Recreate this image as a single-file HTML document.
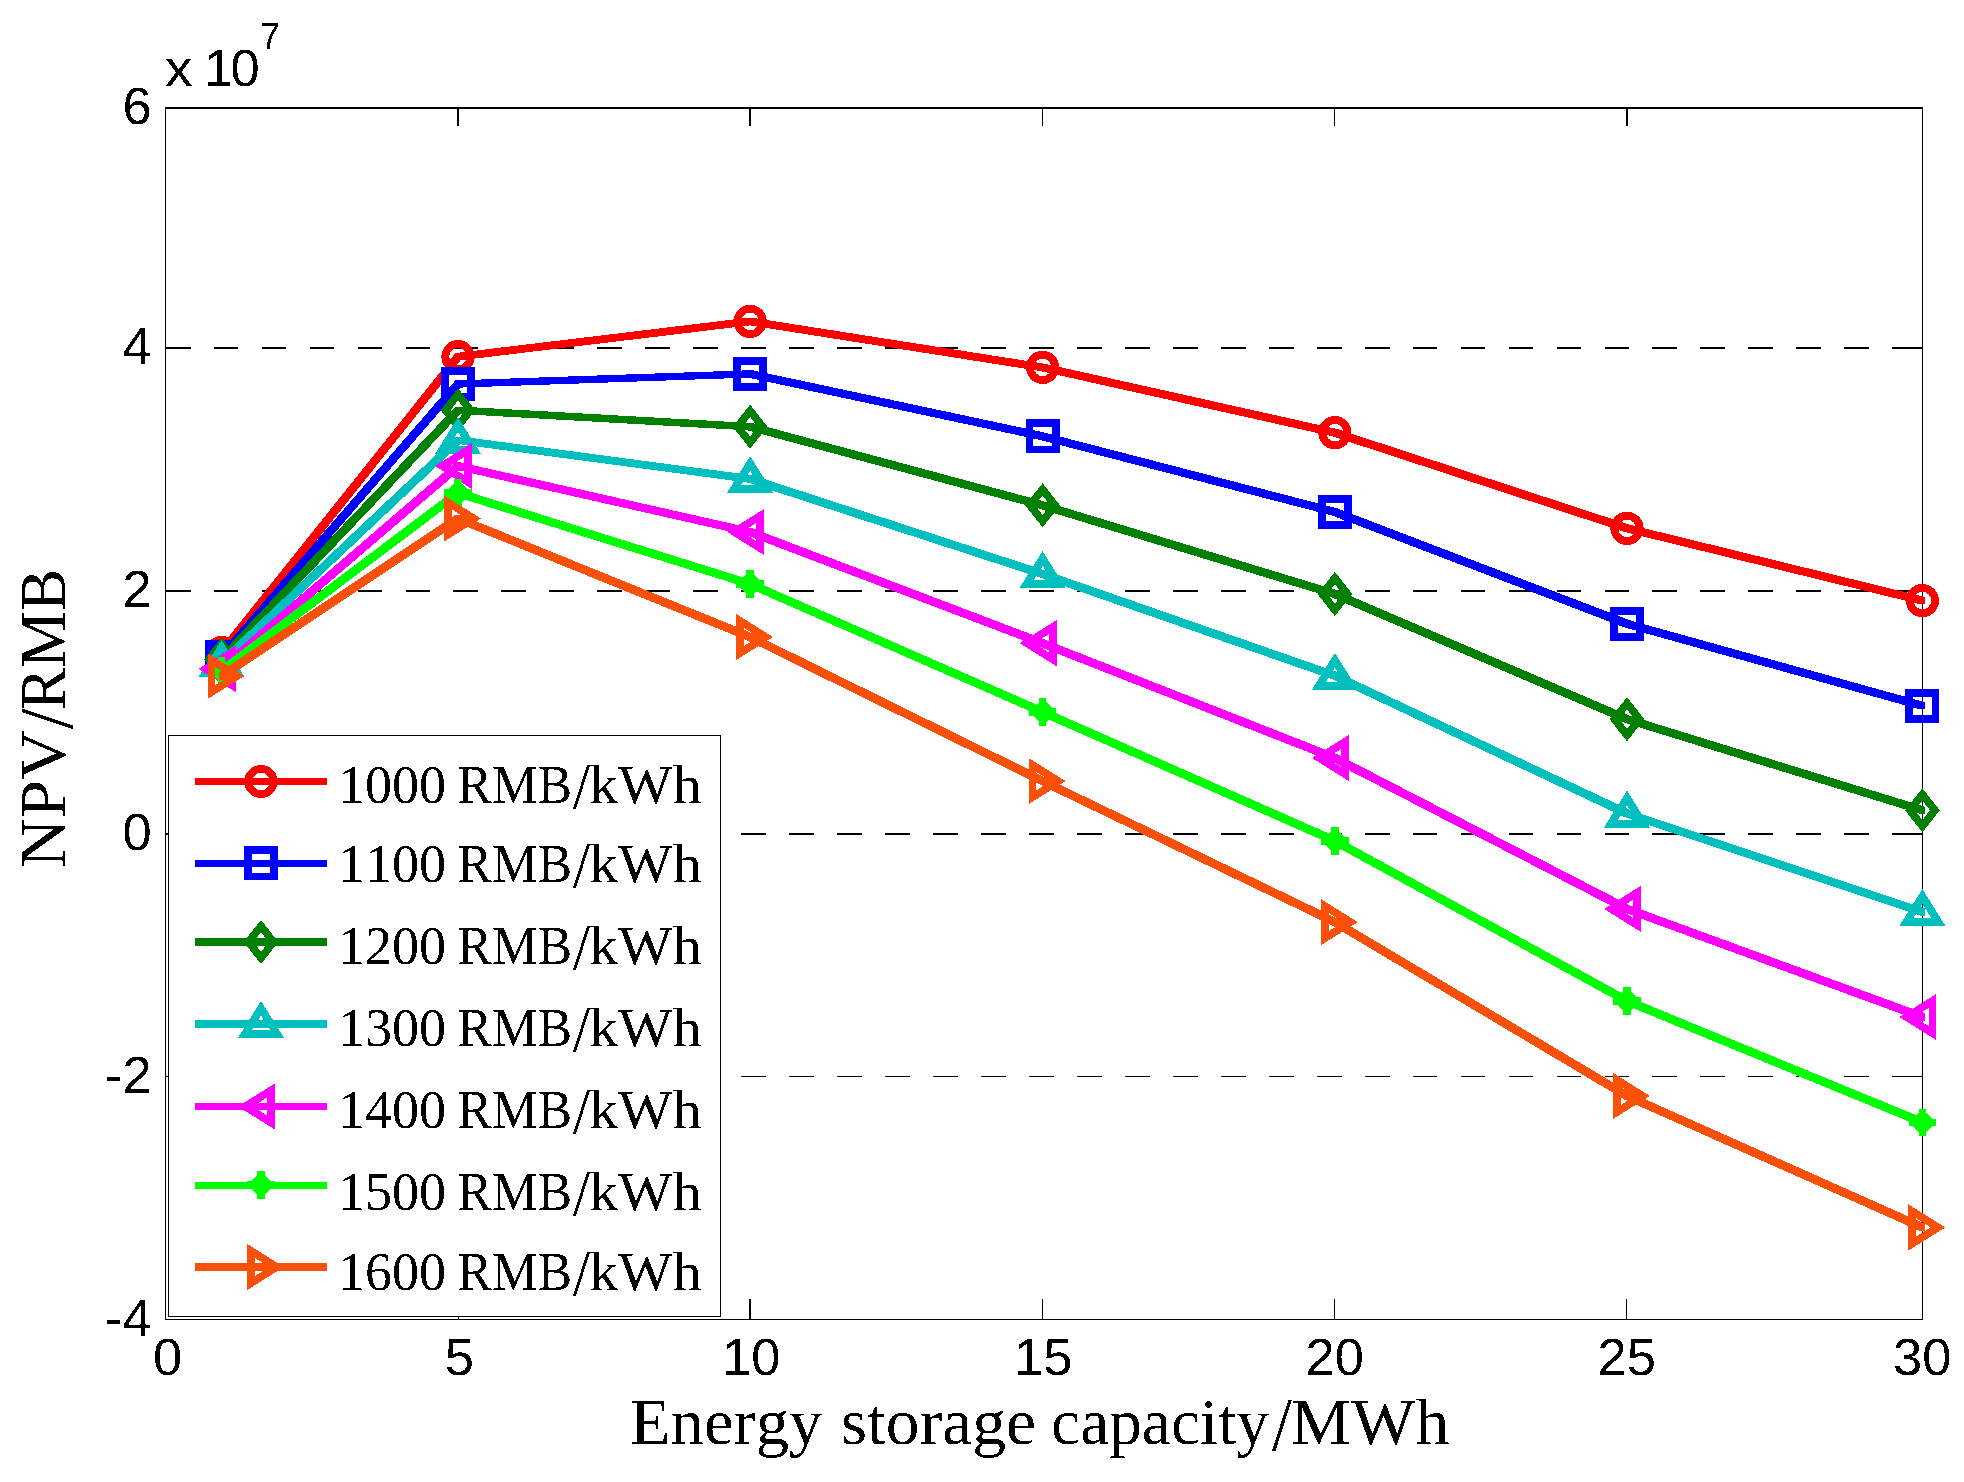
<!DOCTYPE html>
<html lang="en"><head><meta charset="utf-8">
<title>NPV versus energy storage capacity</title>
<style>
html,body{margin:0;padding:0;background:#fff}
body{width:1964px;height:1482px;overflow:hidden}
svg{display:block}
text{filter:url(#hard)}
.tick{font-family:"Liberation Sans",Arial,Helvetica,sans-serif;font-size:52.5px;fill:#000}
.exp{font-family:"Liberation Sans",Arial,Helvetica,sans-serif;font-size:36.5px;fill:#000}
.lab{font-family:"Liberation Serif","Times New Roman",serif;font-size:64.5px;fill:#000;font-kerning:none}
.leg{font-family:"Liberation Serif","Times New Roman",serif;font-size:54.5px;fill:#000;font-kerning:none}
</style></head><body>
<svg width="1964" height="1482" viewBox="0 0 1964 1482">
<rect width="1964" height="1482" fill="#fff"/>
<defs><filter id="hard" x="-5%" y="-5%" width="110%" height="110%" color-interpolation-filters="sRGB"><feComponentTransfer><feFuncA type="discrete" tableValues="0 1"/></feComponentTransfer></filter></defs>
<g stroke="#000" fill="none" stroke-dasharray="24.8 23.16" shape-rendering="crispEdges">
<path d="M165.7 347.8H1922.4" stroke-width="2"/>
<path d="M165.7 590.8H1922.4" stroke-width="2"/>
<path d="M165.7 833.6H1922.4" stroke-width="2"/>
<path d="M165.7 1076.5H1922.4" stroke-width="1.1"/>
</g>
<g stroke="#000" fill="none" shape-rendering="crispEdges">
<path d="M165.1 108H1923" stroke-width="2.2"/>
<path d="M165.1 1319.4H1923" stroke-width="1.2"/>
<path d="M165.7 108V1319.4" stroke-width="1.2"/>
<path d="M1922.4 108V1319.4" stroke-width="1.2"/>
<path d="M458.1 108V125.6" stroke-width="1.8"/>
<path d="M750.1 108V125.6" stroke-width="1.8"/>
<path d="M1042.6 108V125.6" stroke-width="1.1"/>
<path d="M1334.8 108V125.6" stroke-width="1.3"/>
<path d="M1626.9 108V125.6" stroke-width="1.8"/>
<path d="M458.1 1299.3V1319.4" stroke-width="1.1"/>
<path d="M750.1 1299.3V1319.4" stroke-width="1.6"/>
<path d="M1042.6 1299.3V1319.4" stroke-width="1.1"/>
<path d="M1334.8 1299.3V1319.4" stroke-width="1.1"/>
<path d="M1626.9 1299.3V1319.4" stroke-width="1.1"/>
<path d="M1922.4 347.8H1904.8" stroke-width="2"/>
<path d="M165.7 347.8H183.3" stroke-width="2"/>
<path d="M1922.4 590.8H1904.8" stroke-width="2"/>
<path d="M165.7 590.8H183.3" stroke-width="2"/>
<path d="M1922.4 833.6H1904.8" stroke-width="2"/>
<path d="M165.7 833.6H183.3" stroke-width="2"/>
<path d="M1922.4 1076.5H1904.8" stroke-width="1.1"/>
<path d="M165.7 1076.5H183.3" stroke-width="1.1"/>
</g>
<g shape-rendering="crispEdges">
<path d="M218.9 649L455.4 353.1L460.6 353.1L460.6 360.3L224.1 656.2L218.9 656.2ZM455.4 353.1L747.5 317.8L752.7 317.8L752.7 325L460.6 360.3L455.4 360.3ZM747.5 317.8L752.7 317.8L1045.2 363.8L1045.2 371L1040 371L747.5 325ZM1040 363.8L1045.2 363.8L1337.5 429.1L1337.5 436.3L1332.3 436.3L1040 371ZM1332.3 429.1L1337.5 429.1L1629.6 524.7L1629.6 531.9L1624.4 531.9L1332.3 436.3ZM1624.4 524.7L1629.6 524.7L1925 597L1925 604.2L1919.8 604.2L1624.4 531.9Z" fill="#ff0000"/>
<circle transform="translate(221.5 652.6)" r="12.7" fill="none" stroke="#ff0000" stroke-width="7.8"/>
<circle transform="translate(458 356.7)" r="12.7" fill="none" stroke="#ff0000" stroke-width="7.8"/>
<circle transform="translate(750.1 321.4)" r="12.7" fill="none" stroke="#ff0000" stroke-width="7.8"/>
<circle transform="translate(1042.6 367.4)" r="12.7" fill="none" stroke="#ff0000" stroke-width="7.8"/>
<circle transform="translate(1334.9 432.7)" r="12.7" fill="none" stroke="#ff0000" stroke-width="7.8"/>
<circle transform="translate(1627 528.3)" r="12.7" fill="none" stroke="#ff0000" stroke-width="7.8"/>
<circle transform="translate(1922.4 600.6)" r="12.7" fill="none" stroke="#ff0000" stroke-width="7.8"/>
</g>
<g shape-rendering="crispEdges">
<path d="M218.9 653.4L455.4 380.4L460.6 380.4L460.6 387.6L224.1 660.6L218.9 660.6ZM455.4 380.4L747.5 370.3L752.7 370.3L752.7 377.5L460.6 387.6L455.4 387.6ZM747.5 370.3L752.7 370.3L1045.2 432.7L1045.2 439.9L1040 439.9L747.5 377.5ZM1040 432.7L1045.2 432.7L1337.5 508.4L1337.5 515.6L1332.3 515.6L1040 439.9ZM1332.3 508.4L1337.5 508.4L1629.6 620.2L1629.6 627.4L1624.4 627.4L1332.3 515.6ZM1624.4 620.2L1629.6 620.2L1925 702.2L1925 709.4L1919.8 709.4L1624.4 627.4Z" fill="#0000ff"/>
<rect transform="translate(221.5 657)" x="-13.1" y="-13.1" width="26.2" height="26.2" fill="none" stroke="#0000ff" stroke-width="7.7"/>
<rect transform="translate(458 384)" x="-13.1" y="-13.1" width="26.2" height="26.2" fill="none" stroke="#0000ff" stroke-width="7.7"/>
<rect transform="translate(750.1 373.9)" x="-13.1" y="-13.1" width="26.2" height="26.2" fill="none" stroke="#0000ff" stroke-width="7.7"/>
<rect transform="translate(1042.6 436.3)" x="-13.1" y="-13.1" width="26.2" height="26.2" fill="none" stroke="#0000ff" stroke-width="7.7"/>
<rect transform="translate(1334.9 512)" x="-13.1" y="-13.1" width="26.2" height="26.2" fill="none" stroke="#0000ff" stroke-width="7.7"/>
<rect transform="translate(1627 623.8)" x="-13.1" y="-13.1" width="26.2" height="26.2" fill="none" stroke="#0000ff" stroke-width="7.7"/>
<rect transform="translate(1922.4 705.8)" x="-13.1" y="-13.1" width="26.2" height="26.2" fill="none" stroke="#0000ff" stroke-width="7.7"/>
</g>
<g shape-rendering="crispEdges">
<path d="M218.9 655.8L455.4 406.6L460.6 406.6L460.6 413.8L224.1 663L218.9 663ZM455.4 406.6L460.6 406.6L752.7 423.1L752.7 430.3L747.5 430.3L455.4 413.8ZM747.5 423.1L752.7 423.1L1045.2 501.7L1045.2 508.9L1040 508.9L747.5 430.3ZM1040 501.7L1045.2 501.7L1337.5 590.4L1337.5 597.6L1332.3 597.6L1040 508.9ZM1332.3 590.4L1337.5 590.4L1629.6 715.6L1629.6 722.8L1624.4 722.8L1332.3 597.6ZM1624.4 715.6L1629.6 715.6L1925 806.7L1925 813.9L1919.8 813.9L1624.4 722.8Z" fill="#008000"/>
<path transform="translate(221.5 659.4)" d="M0-22.1L17.4 0L0 22.1L-17.4 0ZM0-9.9L-7.5 0L0 9.9L7.5 0Z" fill="#008000" fill-rule="evenodd"/>
<path transform="translate(458 410.2)" d="M0-22.1L17.4 0L0 22.1L-17.4 0ZM0-9.9L-7.5 0L0 9.9L7.5 0Z" fill="#008000" fill-rule="evenodd"/>
<path transform="translate(750.1 426.7)" d="M0-22.1L17.4 0L0 22.1L-17.4 0ZM0-9.9L-7.5 0L0 9.9L7.5 0Z" fill="#008000" fill-rule="evenodd"/>
<path transform="translate(1042.6 505.3)" d="M0-22.1L17.4 0L0 22.1L-17.4 0ZM0-9.9L-7.5 0L0 9.9L7.5 0Z" fill="#008000" fill-rule="evenodd"/>
<path transform="translate(1334.9 594)" d="M0-22.1L17.4 0L0 22.1L-17.4 0ZM0-9.9L-7.5 0L0 9.9L7.5 0Z" fill="#008000" fill-rule="evenodd"/>
<path transform="translate(1627 719.2)" d="M0-22.1L17.4 0L0 22.1L-17.4 0ZM0-9.9L-7.5 0L0 9.9L7.5 0Z" fill="#008000" fill-rule="evenodd"/>
<path transform="translate(1922.4 810.3)" d="M0-22.1L17.4 0L0 22.1L-17.4 0ZM0-9.9L-7.5 0L0 9.9L7.5 0Z" fill="#008000" fill-rule="evenodd"/>
</g>
<g shape-rendering="crispEdges">
<path d="M218.9 659.4L455.4 436.5L460.6 436.5L460.6 443.7L224.1 666.6L218.9 666.6ZM455.4 436.5L460.6 436.5L752.7 475.3L752.7 482.5L747.5 482.5L455.4 443.7ZM747.5 475.3L752.7 475.3L1045.2 570.4L1045.2 577.6L1040 577.6L747.5 482.5ZM1040 570.4L1045.2 570.4L1337.5 672.2L1337.5 679.4L1332.3 679.4L1040 577.6ZM1332.3 672.2L1337.5 672.2L1629.6 809.9L1629.6 817.1L1624.4 817.1L1332.3 679.4ZM1624.4 809.9L1629.6 809.9L1925 908.4L1925 915.6L1919.8 915.6L1624.4 817.1Z" fill="#00bfbf"/>
<path transform="translate(221.5 663)" d="M0-22.9L23.1 14L-23.1 14ZM0-8.2L-9.1 6.3L9.1 6.3Z" fill="#00bfbf" fill-rule="evenodd"/>
<path transform="translate(458 440.1)" d="M0-22.9L23.1 14L-23.1 14ZM0-8.2L-9.1 6.3L9.1 6.3Z" fill="#00bfbf" fill-rule="evenodd"/>
<path transform="translate(750.1 478.9)" d="M0-22.9L23.1 14L-23.1 14ZM0-8.2L-9.1 6.3L9.1 6.3Z" fill="#00bfbf" fill-rule="evenodd"/>
<path transform="translate(1042.6 574)" d="M0-22.9L23.1 14L-23.1 14ZM0-8.2L-9.1 6.3L9.1 6.3Z" fill="#00bfbf" fill-rule="evenodd"/>
<path transform="translate(1334.9 675.8)" d="M0-22.9L23.1 14L-23.1 14ZM0-8.2L-9.1 6.3L9.1 6.3Z" fill="#00bfbf" fill-rule="evenodd"/>
<path transform="translate(1627 813.5)" d="M0-22.9L23.1 14L-23.1 14ZM0-8.2L-9.1 6.3L9.1 6.3Z" fill="#00bfbf" fill-rule="evenodd"/>
<path transform="translate(1922.4 912)" d="M0-22.9L23.1 14L-23.1 14ZM0-8.2L-9.1 6.3L9.1 6.3Z" fill="#00bfbf" fill-rule="evenodd"/>
</g>
<g shape-rendering="crispEdges">
<path d="M218.9 665.3L455.4 462.4L460.6 462.4L460.6 469.6L224.1 672.5L218.9 672.5ZM455.4 462.4L460.6 462.4L752.7 528.4L752.7 535.6L747.5 535.6L455.4 469.6ZM747.5 528.4L752.7 528.4L1045.2 639.6L1045.2 646.8L1040 646.8L747.5 535.6ZM1040 639.6L1045.2 639.6L1337.5 754.4L1337.5 761.6L1332.3 761.6L1040 646.8ZM1332.3 754.4L1337.5 754.4L1629.6 905.3L1629.6 912.5L1624.4 912.5L1332.3 761.6ZM1624.4 905.3L1629.6 905.3L1925 1013.4L1925 1020.6L1919.8 1020.6L1624.4 912.5Z" fill="#ff00ff"/>
<path transform="translate(221.5 668.9)" d="M-22.9 0L14-23.1L14 23.1ZM-8.2 0L6.3 9.2L6.3-9.2Z" fill="#ff00ff" fill-rule="evenodd"/>
<path transform="translate(458 466)" d="M-22.9 0L14-23.1L14 23.1ZM-8.2 0L6.3 9.2L6.3-9.2Z" fill="#ff00ff" fill-rule="evenodd"/>
<path transform="translate(750.1 532)" d="M-22.9 0L14-23.1L14 23.1ZM-8.2 0L6.3 9.2L6.3-9.2Z" fill="#ff00ff" fill-rule="evenodd"/>
<path transform="translate(1042.6 643.2)" d="M-22.9 0L14-23.1L14 23.1ZM-8.2 0L6.3 9.2L6.3-9.2Z" fill="#ff00ff" fill-rule="evenodd"/>
<path transform="translate(1334.9 758)" d="M-22.9 0L14-23.1L14 23.1ZM-8.2 0L6.3 9.2L6.3-9.2Z" fill="#ff00ff" fill-rule="evenodd"/>
<path transform="translate(1627 908.9)" d="M-22.9 0L14-23.1L14 23.1ZM-8.2 0L6.3 9.2L6.3-9.2Z" fill="#ff00ff" fill-rule="evenodd"/>
<path transform="translate(1922.4 1017)" d="M-22.9 0L14-23.1L14 23.1ZM-8.2 0L6.3 9.2L6.3-9.2Z" fill="#ff00ff" fill-rule="evenodd"/>
</g>
<g shape-rendering="crispEdges">
<path d="M218.9 667.4L455.4 489.4L460.6 489.4L460.6 496.6L224.1 674.6L218.9 674.6ZM455.4 489.4L460.6 489.4L752.7 580.4L752.7 587.6L747.5 587.6L455.4 496.6ZM747.5 580.4L752.7 580.4L1045.2 708.4L1045.2 715.6L1040 715.6L747.5 587.6ZM1040 708.4L1045.2 708.4L1337.5 837.3L1337.5 844.5L1332.3 844.5L1040 715.6ZM1332.3 837.3L1337.5 837.3L1629.6 997.3L1629.6 1004.5L1624.4 1004.5L1332.3 844.5ZM1624.4 997.3L1629.6 997.3L1925 1118.8L1925 1126L1919.8 1126L1624.4 1004.5Z" fill="#00ff00"/>
<path transform="translate(221.5 671)" d="M-3.8-13.6L3.8-13.6L3.8-9.7L9.7-3.8L13.6-3.8L13.6 3.8L9.7 3.8L3.8 9.7L3.8 13.6L-3.8 13.6L-3.8 9.7L-9.7 3.8L-13.6 3.8L-13.6-3.8L-9.7-3.8L-3.8-9.7Z" fill="#00ff00"/>
<path transform="translate(458 493)" d="M-3.8-13.6L3.8-13.6L3.8-9.7L9.7-3.8L13.6-3.8L13.6 3.8L9.7 3.8L3.8 9.7L3.8 13.6L-3.8 13.6L-3.8 9.7L-9.7 3.8L-13.6 3.8L-13.6-3.8L-9.7-3.8L-3.8-9.7Z" fill="#00ff00"/>
<path transform="translate(750.1 584)" d="M-3.8-13.6L3.8-13.6L3.8-9.7L9.7-3.8L13.6-3.8L13.6 3.8L9.7 3.8L3.8 9.7L3.8 13.6L-3.8 13.6L-3.8 9.7L-9.7 3.8L-13.6 3.8L-13.6-3.8L-9.7-3.8L-3.8-9.7Z" fill="#00ff00"/>
<path transform="translate(1042.6 712)" d="M-3.8-13.6L3.8-13.6L3.8-9.7L9.7-3.8L13.6-3.8L13.6 3.8L9.7 3.8L3.8 9.7L3.8 13.6L-3.8 13.6L-3.8 9.7L-9.7 3.8L-13.6 3.8L-13.6-3.8L-9.7-3.8L-3.8-9.7Z" fill="#00ff00"/>
<path transform="translate(1334.9 840.9)" d="M-3.8-13.6L3.8-13.6L3.8-9.7L9.7-3.8L13.6-3.8L13.6 3.8L9.7 3.8L3.8 9.7L3.8 13.6L-3.8 13.6L-3.8 9.7L-9.7 3.8L-13.6 3.8L-13.6-3.8L-9.7-3.8L-3.8-9.7Z" fill="#00ff00"/>
<path transform="translate(1627 1000.9)" d="M-3.8-13.6L3.8-13.6L3.8-9.7L9.7-3.8L13.6-3.8L13.6 3.8L9.7 3.8L3.8 9.7L3.8 13.6L-3.8 13.6L-3.8 9.7L-9.7 3.8L-13.6 3.8L-13.6-3.8L-9.7-3.8L-3.8-9.7Z" fill="#00ff00"/>
<path transform="translate(1922.4 1122.4)" d="M-3.8-13.6L3.8-13.6L3.8-9.7L9.7-3.8L13.6-3.8L13.6 3.8L9.7 3.8L3.8 9.7L3.8 13.6L-3.8 13.6L-3.8 9.7L-9.7 3.8L-13.6 3.8L-13.6-3.8L-9.7-3.8L-3.8-9.7Z" fill="#00ff00"/>
</g>
<g shape-rendering="crispEdges">
<path d="M218.9 672.4L455.4 514.9L460.6 514.9L460.6 522.1L224.1 679.6L218.9 679.6ZM455.4 514.9L460.6 514.9L752.7 633.4L752.7 640.6L747.5 640.6L455.4 522.1ZM747.5 633.4L752.7 633.4L1045.2 777.5L1045.2 784.7L1040 784.7L747.5 640.6ZM1040 777.5L1045.2 777.5L1337.5 918.5L1337.5 925.7L1332.3 925.7L1040 784.7ZM1332.3 918.5L1337.5 918.5L1629.6 1092.3L1629.6 1099.5L1624.4 1099.5L1332.3 925.7ZM1624.4 1092.3L1629.6 1092.3L1925 1223.8L1925 1231L1919.8 1231L1624.4 1099.5Z" fill="#fa500a"/>
<path transform="translate(221.5 676)" d="M22.9 0L-14-23.1L-14 23.1ZM8.2 0L-6.3 9.2L-6.3-9.2Z" fill="#fa500a" fill-rule="evenodd"/>
<path transform="translate(458 518.5)" d="M22.9 0L-14-23.1L-14 23.1ZM8.2 0L-6.3 9.2L-6.3-9.2Z" fill="#fa500a" fill-rule="evenodd"/>
<path transform="translate(750.1 637)" d="M22.9 0L-14-23.1L-14 23.1ZM8.2 0L-6.3 9.2L-6.3-9.2Z" fill="#fa500a" fill-rule="evenodd"/>
<path transform="translate(1042.6 781.1)" d="M22.9 0L-14-23.1L-14 23.1ZM8.2 0L-6.3 9.2L-6.3-9.2Z" fill="#fa500a" fill-rule="evenodd"/>
<path transform="translate(1334.9 922.1)" d="M22.9 0L-14-23.1L-14 23.1ZM8.2 0L-6.3 9.2L-6.3-9.2Z" fill="#fa500a" fill-rule="evenodd"/>
<path transform="translate(1627 1095.9)" d="M22.9 0L-14-23.1L-14 23.1ZM8.2 0L-6.3 9.2L-6.3-9.2Z" fill="#fa500a" fill-rule="evenodd"/>
<path transform="translate(1922.4 1227.4)" d="M22.9 0L-14-23.1L-14 23.1ZM8.2 0L-6.3 9.2L-6.3-9.2Z" fill="#fa500a" fill-rule="evenodd"/>
</g>
<rect x="168.5" y="735.3" width="552" height="581.2" fill="#fff" stroke="#000" stroke-width="1.1" shape-rendering="crispEdges"/>
<g shape-rendering="crispEdges">
<path d="M195 781.5H327.1" stroke="#ff0000" stroke-width="7.2" fill="none"/>
<circle transform="translate(261 781.5)" r="12.7" fill="none" stroke="#ff0000" stroke-width="7.8"/>
</g>
<text class="leg"><tspan x="337.94" y="802.9" textLength="108.22" lengthAdjust="spacingAndGlyphs">1000</tspan> <tspan x="457.51" y="802.9" textLength="114.81" lengthAdjust="spacingAndGlyphs">RMB</tspan><tspan x="573.1" y="807.7" font-size="64.9" textLength="17" lengthAdjust="spacingAndGlyphs">/</tspan><tspan x="589.2" y="802.9" textLength="112.46" lengthAdjust="spacingAndGlyphs">kWh</tspan></text>
<g shape-rendering="crispEdges">
<path d="M195 863.3H327.1" stroke="#0000ff" stroke-width="7.2" fill="none"/>
<rect transform="translate(261 863.3)" x="-13.1" y="-13.1" width="26.2" height="26.2" fill="none" stroke="#0000ff" stroke-width="7.7"/>
</g>
<text class="leg"><tspan x="337.94" y="882.3" textLength="108.22" lengthAdjust="spacingAndGlyphs">1100</tspan> <tspan x="457.51" y="882.3" textLength="114.81" lengthAdjust="spacingAndGlyphs">RMB</tspan><tspan x="573.1" y="887.1" font-size="64.9" textLength="17" lengthAdjust="spacingAndGlyphs">/</tspan><tspan x="589.2" y="882.3" textLength="112.46" lengthAdjust="spacingAndGlyphs">kWh</tspan></text>
<g shape-rendering="crispEdges">
<path d="M195 942H327.1" stroke="#008000" stroke-width="7.2" fill="none"/>
<path transform="translate(261 942)" d="M0-22.1L17.4 0L0 22.1L-17.4 0ZM0-9.9L-7.5 0L0 9.9L7.5 0Z" fill="#008000" fill-rule="evenodd"/>
</g>
<text class="leg"><tspan x="337.94" y="963.9" textLength="108.22" lengthAdjust="spacingAndGlyphs">1200</tspan> <tspan x="457.51" y="963.9" textLength="114.81" lengthAdjust="spacingAndGlyphs">RMB</tspan><tspan x="573.1" y="968.7" font-size="64.9" textLength="17" lengthAdjust="spacingAndGlyphs">/</tspan><tspan x="589.2" y="963.9" textLength="112.46" lengthAdjust="spacingAndGlyphs">kWh</tspan></text>
<g shape-rendering="crispEdges">
<path d="M195 1023.9H327.1" stroke="#00bfbf" stroke-width="7.2" fill="none"/>
<path transform="translate(261 1023.9)" d="M0-22.9L23.1 14L-23.1 14ZM0-8.2L-9.1 6.3L9.1 6.3Z" fill="#00bfbf" fill-rule="evenodd"/>
</g>
<text class="leg"><tspan x="337.94" y="1046.3" textLength="108.22" lengthAdjust="spacingAndGlyphs">1300</tspan> <tspan x="457.51" y="1046.3" textLength="114.81" lengthAdjust="spacingAndGlyphs">RMB</tspan><tspan x="573.1" y="1051.1" font-size="64.9" textLength="17" lengthAdjust="spacingAndGlyphs">/</tspan><tspan x="589.2" y="1046.3" textLength="112.46" lengthAdjust="spacingAndGlyphs">kWh</tspan></text>
<g shape-rendering="crispEdges">
<path d="M195 1106.5H327.1" stroke="#ff00ff" stroke-width="7.2" fill="none"/>
<path transform="translate(261 1106.5)" d="M-22.9 0L14-23.1L14 23.1ZM-8.2 0L6.3 9.2L6.3-9.2Z" fill="#ff00ff" fill-rule="evenodd"/>
</g>
<text class="leg"><tspan x="337.94" y="1127.8" textLength="108.22" lengthAdjust="spacingAndGlyphs">1400</tspan> <tspan x="457.51" y="1127.8" textLength="114.81" lengthAdjust="spacingAndGlyphs">RMB</tspan><tspan x="573.1" y="1132.6" font-size="64.9" textLength="17" lengthAdjust="spacingAndGlyphs">/</tspan><tspan x="589.2" y="1127.8" textLength="112.46" lengthAdjust="spacingAndGlyphs">kWh</tspan></text>
<g shape-rendering="crispEdges">
<path d="M195 1185.1H327.1" stroke="#00ff00" stroke-width="7.2" fill="none"/>
<path transform="translate(261 1185.1)" d="M-3.8-13.6L3.8-13.6L3.8-9.7L9.7-3.8L13.6-3.8L13.6 3.8L9.7 3.8L3.8 9.7L3.8 13.6L-3.8 13.6L-3.8 9.7L-9.7 3.8L-13.6 3.8L-13.6-3.8L-9.7-3.8L-3.8-9.7Z" fill="#00ff00"/>
</g>
<text class="leg"><tspan x="337.94" y="1210" textLength="108.22" lengthAdjust="spacingAndGlyphs">1500</tspan> <tspan x="457.51" y="1210" textLength="114.81" lengthAdjust="spacingAndGlyphs">RMB</tspan><tspan x="573.1" y="1214.8" font-size="64.9" textLength="17" lengthAdjust="spacingAndGlyphs">/</tspan><tspan x="589.2" y="1210" textLength="112.46" lengthAdjust="spacingAndGlyphs">kWh</tspan></text>
<g shape-rendering="crispEdges">
<path d="M195 1267H327.1" stroke="#fa500a" stroke-width="7.2" fill="none"/>
<path transform="translate(261 1267)" d="M22.9 0L-14-23.1L-14 23.1ZM8.2 0L-6.3 9.2L-6.3-9.2Z" fill="#fa500a" fill-rule="evenodd"/>
</g>
<text class="leg"><tspan x="337.94" y="1290.3" textLength="108.22" lengthAdjust="spacingAndGlyphs">1600</tspan> <tspan x="457.51" y="1290.3" textLength="114.81" lengthAdjust="spacingAndGlyphs">RMB</tspan><tspan x="573.1" y="1295.1" font-size="64.9" textLength="17" lengthAdjust="spacingAndGlyphs">/</tspan><tspan x="589.2" y="1290.3" textLength="112.46" lengthAdjust="spacingAndGlyphs">kWh</tspan></text>
<text class="tick" x="167.6" y="1375" text-anchor="middle">0</text>
<text class="tick" x="459.3" y="1375" text-anchor="middle">5</text>
<text class="tick" x="751.2" y="1375" text-anchor="middle">10</text>
<text class="tick" x="1043.3" y="1375" text-anchor="middle">15</text>
<text class="tick" x="1334.8" y="1375" text-anchor="middle">20</text>
<text class="tick" x="1626.7" y="1375" text-anchor="middle">25</text>
<text class="tick" x="1922.2" y="1375" text-anchor="middle">30</text>
<text class="tick" x="151.8" y="124.4" text-anchor="end">6</text>
<text class="tick" x="151.8" y="364.2" text-anchor="end">4</text>
<text class="tick" x="151.8" y="607.2" text-anchor="end">2</text>
<text class="tick" x="151.8" y="850" text-anchor="end">0</text>
<text class="tick" x="151.8" y="1092.9" text-anchor="end">-2</text>
<text class="tick" x="151.8" y="1335.8" text-anchor="end">-4</text>
<text class="tick" y="86"><tspan x="164.9" textLength="27.6" lengthAdjust="spacingAndGlyphs">x</tspan> <tspan x="203.8" letter-spacing="-2.6">10</tspan></text>
<text class="exp" x="260" y="49">7</text>
<text class="lab"><tspan x="629.88" y="1443.5" textLength="192.38" lengthAdjust="spacingAndGlyphs">Energy</tspan> <tspan x="840.72" y="1443.5" textLength="195.42" lengthAdjust="spacingAndGlyphs">storage</tspan> <tspan x="1051.11" y="1443.5" textLength="217.85" lengthAdjust="spacingAndGlyphs">capacity</tspan><tspan x="1272" y="1450.1" font-size="75.2" textLength="19.7" lengthAdjust="spacingAndGlyphs">/</tspan><tspan x="1290.84" y="1443.5" textLength="158.55" lengthAdjust="spacingAndGlyphs">MWh</tspan></text>
<text class="lab" transform="translate(65 865.9) rotate(-90)"><tspan x="-1.98" y="0" textLength="137.66" lengthAdjust="spacingAndGlyphs">NPV</tspan><tspan x="136.7" y="6.6" font-size="75.2" textLength="20.7" lengthAdjust="spacingAndGlyphs">/</tspan><tspan x="156.07" y="0" textLength="141.02" lengthAdjust="spacingAndGlyphs">RMB</tspan></text>
</svg>
</body></html>
